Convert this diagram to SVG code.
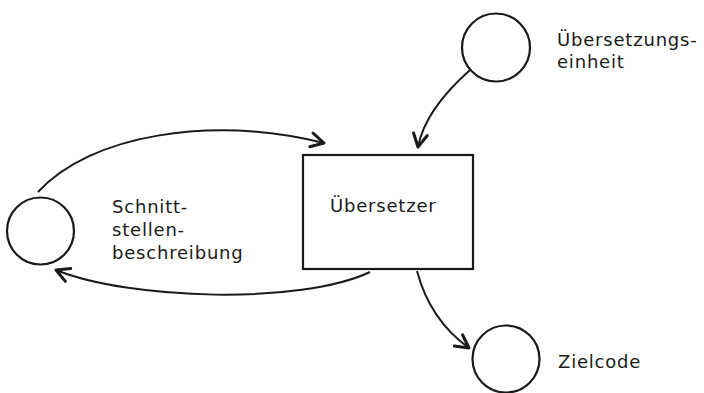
<svg xmlns="http://www.w3.org/2000/svg" width="704" height="393" viewBox="0 0 704 393">
<defs>
<marker id="ah" markerUnits="userSpaceOnUse" markerWidth="20" markerHeight="20" viewBox="-16 -10 20 20" refX="0" refY="0" orient="auto">
<path d="M-13,-7 L0,0 L-13,7" fill="none" stroke="#1a1a1a" stroke-width="3" stroke-linecap="round" stroke-linejoin="round"/>
</marker>
</defs>
<style>
.n{fill:#fff;stroke:#1a1a1a;stroke-width:2.2}
.c{fill:none;stroke:#1a1a1a;stroke-width:2;marker-end:url(#ah)}
.t{font-family:"DejaVu Sans",sans-serif;font-size:18px;letter-spacing:0.8px;fill:#1a1a1a}
</style>
<rect width="704" height="393" fill="#fff"/>
<g id="connectors">
<path class="c" d="M38,192 C90,135 210,115 324,143"/>
<path class="c" d="M370,272 C300,305 130,300 56,270"/>
<path class="c" d="M470,70 Q425,110 418,147"/>
<path class="c" d="M417,271 Q430,320 469,348"/>
</g>
<g id="schnittstelle">
<circle class="n" cx="40.5" cy="231" r="33.5"/>
<text class="t" x="112" y="213">Schnitt-</text>
<text class="t" x="112" y="236">stellen-</text>
<text class="t" x="112" y="259">beschreibung</text>
</g>
<g id="uebersetzer">
<rect class="n" x="303" y="155" width="170" height="114" stroke-width="2.6"/>
<text class="t" x="330" y="212">Übersetzer</text>
</g>
<g id="einheit">
<circle class="n" cx="496" cy="47.5" r="34"/>
<text class="t" x="557" y="46">Übersetzungs-</text>
<text class="t" x="557" y="68">einheit</text>
</g>
<g id="zielcode">
<circle class="n" cx="506" cy="359" r="33.5"/>
<text class="t" x="558" y="368">Zielcode</text>
</g>
</svg>
